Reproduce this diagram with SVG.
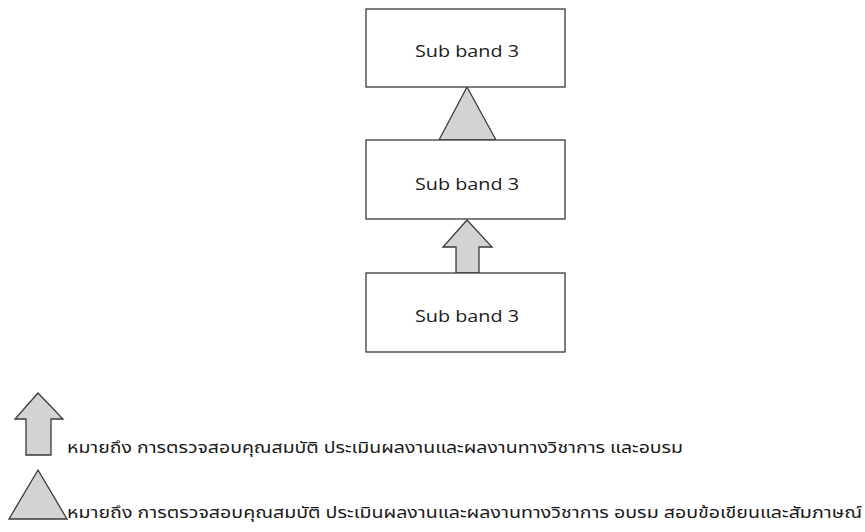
<svg xmlns="http://www.w3.org/2000/svg" width="865" height="532" viewBox="0 0 865 532">
  <style>
    .box { fill: #ffffff; stroke: #3a3a3a; stroke-width: 1.3; }
    .shape { fill: #d3d3d3; stroke: #3a3a3a; stroke-width: 1.3; stroke-linejoin: miter; }
    .lbl { font-family: "Open Sans", "Noto Sans", "DejaVu Sans", sans-serif; font-size: 17px; fill: #1a1a1a; text-anchor: middle; }
    .legend { font-family: Tahoma, "Noto Sans Thai", "Noto Sans", "DejaVu Sans", sans-serif; font-size: 15px; fill: #1a1a1a; }
  </style>
  <rect width="865" height="532" fill="#ffffff"/>
  <g id="connectors">
    <polygon class="shape" points="467,87 439,140 496,140"/>
    <polygon class="shape" points="467,220 443,247 456,247 456,273 479,273 479,247 492,247"/>
  </g>
  <g id="node-top">
    <rect class="box" x="366" y="9" width="199" height="78"/>
    <text class="lbl" x="467" y="57" textLength="104" lengthAdjust="spacingAndGlyphs">Sub band 3</text>
  </g>
  <g id="node-middle">
    <rect class="box" x="366" y="140" width="199" height="79"/>
    <text class="lbl" x="467" y="190" textLength="104" lengthAdjust="spacingAndGlyphs">Sub band 3</text>
  </g>
  <g id="node-bottom">
    <rect class="box" x="366" y="273" width="199" height="79"/>
    <text class="lbl" x="467" y="322" textLength="104" lengthAdjust="spacingAndGlyphs">Sub band 3</text>
  </g>
  <g id="legend-arrow">
    <polygon class="shape" points="38,393 15,419 26,419 26,455 51,455 51,419 63,419"/>
    <text class="legend" x="67" y="453" textLength="616" lengthAdjust="spacingAndGlyphs">หมายถึง การตรวจสอบคุณสมบัติ ประเมินผลงานและผลงานทางวิชาการ และอบรม</text>
  </g>
  <g id="legend-triangle">
    <polygon class="shape" points="38,470 9,519 67,519"/>
    <text class="legend" x="67" y="518" textLength="795" lengthAdjust="spacingAndGlyphs">หมายถึง การตรวจสอบคุณสมบัติ ประเมินผลงานและผลงานทางวิชาการ อบรม สอบข้อเขียนและสัมภาษณ์</text>
  </g>
</svg>
